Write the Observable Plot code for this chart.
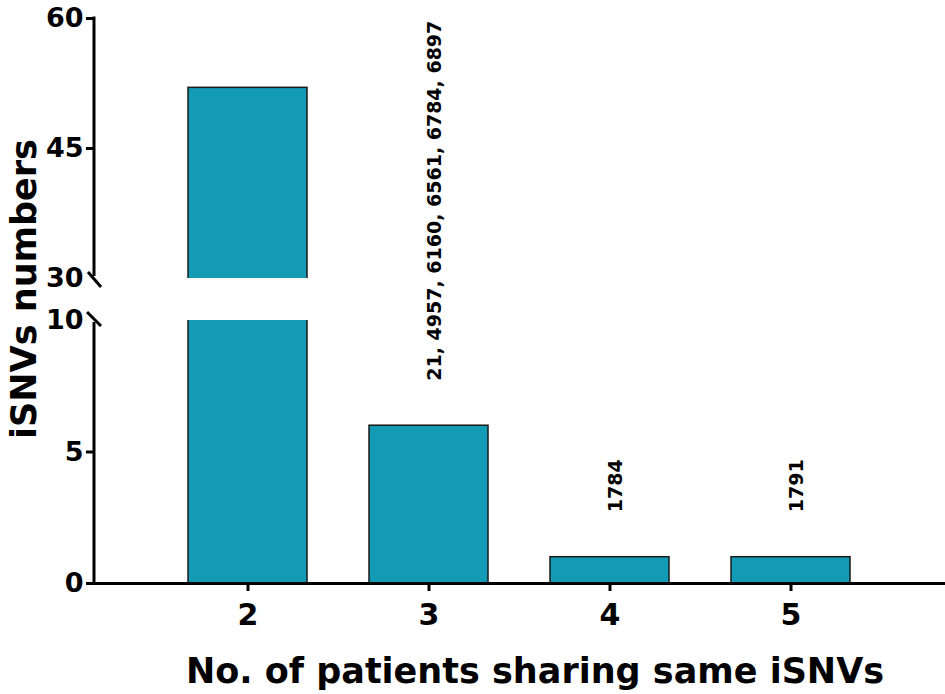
<!DOCTYPE html>
<html><head><meta charset="utf-8">
<script src="https://cdn.jsdelivr.net/npm/d3@7"></script>
<script src="https://cdn.jsdelivr.net/npm/@observablehq/plot@0.6"></script>
<style>
body{margin:0;background:#fff;}
#chart{position:relative;width:945px;height:694px;}
#chart svg{position:absolute;left:0;top:0;overflow:visible;}
</style></head><body><div id="chart"></div>
<script>
// ---- data ----
const categories = ["2", "3", "4", "5"];
const values = [52, 6, 1, 1];
const annotations = ["", "21, 4957, 6160, 6561, 6784, 6897", "1784", "1791"];
const upperTicks = [30, 45, 60];
const lowerTicks = [0, 5, 10];
const xTitle = "No. of patients sharing same iSNVs";
const yTitle = "iSNVs numbers";

const data = categories.map((c, i) => ({cat: c, value: values[i], label: annotations[i]}));

const font = "'DejaVu Sans', sans-serif";
const barFill = "#139ab5";
const xScale = {domain: categories, paddingInner: 0.34, paddingOuter: 0.51};
const svgStyle = {fontFamily: font, fontWeight: "bold", background: "transparent", overflow: "visible", color: "#000"};

// axis line segment with break slash, derived from the scales
function yAxisSegment(breakValue, side) {
  return (index, scales, values, dims) => {
    const ns = "http://www.w3.org/2000/svg";
    const g = document.createElementNS(ns, "g");
    g.setAttribute("stroke", "#000");
    g.setAttribute("stroke-width", 3);
    g.setAttribute("fill", "none");
    const x = dims.marginLeft;
    const yb = scales.y(breakValue);
    const yEnd = side === "upper" ? dims.marginTop - 1.5 : dims.height - dims.marginBottom + 1.5;
    const l = document.createElementNS(ns, "line");
    l.setAttribute("x1", x); l.setAttribute("x2", x);
    l.setAttribute("y1", yEnd); l.setAttribute("y2", side === "upper" ? yb - 2 : yb + 2);
    g.appendChild(l);
    const s = document.createElementNS(ns, "line");
    if (side === "upper") {
      s.setAttribute("x1", x - 6); s.setAttribute("y1", yb - 6);
      s.setAttribute("x2", x + 7); s.setAttribute("y2", yb + 9);
    } else {
      s.setAttribute("x1", x - 7); s.setAttribute("y1", yb - 8);
      s.setAttribute("x2", x + 7); s.setAttribute("y2", yb + 6);
    }
    g.appendChild(s);
    return g;
  };
}

const barOpts = {x: "cat", y1: 0, y2: "value", fill: barFill, stroke: "#1a1a1a", strokeWidth: 1.5, clip: true};

const upper = Plot.plot({
  width: 945, height: 300,
  marginTop: 18, marginBottom: 22, marginLeft: 94, marginRight: 0,
  style: svgStyle,
  x: {...xScale, axis: null},
  y: {domain: [upperTicks[0], upperTicks[upperTicks.length - 1]]},
  marks: [
    Plot.barY(data, barOpts),
    Plot.axisY({ticks: upperTicks.slice(1), tickSize: 8, tickPadding: 3, strokeWidth: 3, fontSize: 27, fontWeight: "bold", label: null}),
    Plot.axisY({ticks: upperTicks.slice(0, 1), tickSize: 0, tickPadding: 11, fontSize: 27, fontWeight: "bold", label: null}),
    yAxisSegment(upperTicks[0], "upper")
  ]
});

const lower = Plot.plot({
  width: 945, height: 694,
  marginTop: 320, marginBottom: 111, marginLeft: 94, marginRight: 0,
  style: svgStyle,
  x: {...xScale},
  y: {domain: [lowerTicks[0], lowerTicks[lowerTicks.length - 1]]},
  marks: [
    Plot.barY(data, barOpts),
    Plot.ruleY([0], {strokeWidth: 3}),
    Plot.axisX({tickSize: 8, tickPadding: 12, strokeWidth: 3, fontSize: 30, fontWeight: "bold", label: null}),
    Plot.axisY({ticks: lowerTicks.slice(0, 2), tickSize: 8, tickPadding: 3, strokeWidth: 3, fontSize: 27, fontWeight: "bold", label: null}),
    Plot.axisY({ticks: lowerTicks.slice(2), tickSize: 0, tickPadding: 11, fontSize: 27, fontWeight: "bold", label: null}),
    yAxisSegment(lowerTicks[2], "lower"),
    Plot.text(data.filter(d => d.label), {x: "cat", y: "value", text: "label", rotate: -90, textAnchor: "start", dy: -45, dx: 6, fontSize: 19, fontWeight: "bold", fill: "#000"}),
    Plot.text([xTitle], {frameAnchor: "bottom", lineAnchor: "bottom", dy: 99, dx: 15, fontSize: 35, fontWeight: "bold", fill: "#000"}),
    Plot.text([yTitle], {frameAnchor: "left", textAnchor: "middle", lineAnchor: "middle", rotate: -90, dx: -70, dy: -163, fontSize: 35, fontWeight: "bold", fill: "#000"})
  ]
});

const chart = document.getElementById("chart");
chart.appendChild(upper);
chart.appendChild(lower);
</script>
</body></html>
